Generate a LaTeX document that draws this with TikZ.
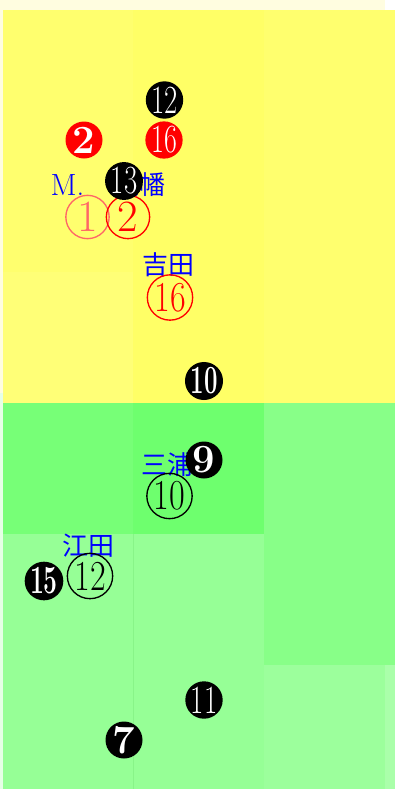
\documentclass[tikz,border=0pt]{standalone}
\usepackage{fontspec}
\newfontfamily\cjk{Noto Sans CJK JP}
\usepackage{graphicx}
\definecolor{paleY}{HTML}{FFFDE0}
\definecolor{paleG}{HTML}{E6FFE6}
\definecolor{yelA}{HTML}{FFFF6E}
\definecolor{yelB}{HTML}{FFFF66}
\definecolor{yelC}{HTML}{FFFF77}
\definecolor{grA}{HTML}{77FF77}
\definecolor{grB}{HTML}{6EFF6E}
\definecolor{grC}{HTML}{88FF88}
\definecolor{grD}{HTML}{96FF96}
\definecolor{grE}{HTML}{9CFF9C}
\definecolor{grF}{HTML}{AAFFAA}
\definecolor{grLine}{HTML}{88F488}
\definecolor{salmon}{HTML}{FF6666}
\begin{document}
\begin{tikzpicture}[x=0.75pt,y=-0.75pt,
  filled/.style={circle,fill=black,text=white,minimum size=27.75pt,inner sep=0pt,font=\fontsize{30}{30}\selectfont},
  filledbold/.style={filled,font=\fontsize{30}{30}\selectfont\bfseries},
  ring/.style={circle,draw=black,text=black,line width=1pt,minimum size=34pt,inner sep=0pt,font=\fontsize{32}{32}\selectfont},
  ringone/.style={ring,minimum size=32.5pt,font=\fontsize{33.5}{33.5}\selectfont},
  lbl/.style={text=blue,inner sep=0pt,font=\cjk\fontsize{19.5}{19.5}\selectfont},
  lbllat/.style={text=blue,inner sep=0pt,font=\fontsize{23}{23}\selectfont}]
\useasboundingbox (0,0) rectangle (403,789);
% backgrounds
\fill[white] (0,0) rectangle (403,789);
\fill[paleY] (0,0) rectangle (385,10);
\fill[paleY] (0,10) rectangle (3,393);
\fill[paleG] (0,393) rectangle (3,789);
\fill[yelA] (3,10) rectangle (395,403);
\fill[yelB] (133,10) rectangle (264,403);
\fill[yelC] (3,272) rectangle (133,403);
\fill[grA] (3,403) rectangle (133,534);
\fill[grB] (133,403) rectangle (264,534);
\fill[grC] (264,403) rectangle (395,665);
\fill[grD] (3,534) rectangle (264,789);
\fill[grE] (264,665) rectangle (385,789);
\fill[grF] (385,665) rectangle (395,789);
\draw[grLine,line width=0.6pt] (133,534) -- (133,789);
% labels
\node[lbllat] (lblM) at (67.5,185) {M.};
\node[lbl] (lblYahata) at (139,185) {八幡};
\node[lbl] (lblYoshida) at (168,265) {吉田};
\node[lbl] (lblMiura) at (167,465) {三浦};
\node[lbl] (lblEda) at (88,546) {江田};
% open circled numbers
\node[ringone,draw=salmon,text=salmon] (r1) at (87.5,217) {1};
\node[ringone,draw=red,text=red] (r2) at (128,217) {2};
\node[ring,draw=red,text=red] (r16) at (170,297.5) {\scalebox{0.8}[1]{16}};
\node[ring] (r10) at (169.5,496) {\scalebox{0.8}[1]{10}};
\node[ring] (r12) at (90,576) {\scalebox{0.8}[1]{12}};
% filled circled numbers
\node[filled] (f12) at (164.5,100) {\scalebox{0.72}[1]{12}};
\node[filledbold,fill=red] (f2) at (84,140) {2};
\node[filled,fill=red] (f16) at (164,140) {\scalebox{0.7}[1]{16}};
\node[filled] (f13) at (124,181) {\scalebox{0.72}[1]{13}};
\node[filledbold] (f10) at (204,381) {\scalebox{0.6}[1]{10}};
\node[filledbold] (f9) at (204,460) {9};
\node[filledbold] (f15) at (44,581) {\scalebox{0.62}[1]{15}};
\node[filled] (f11) at (204,700) {\scalebox{0.72}[1]{11}};
\node[filledbold] (f7) at (124,740) {7};
\end{tikzpicture}
\end{document}
